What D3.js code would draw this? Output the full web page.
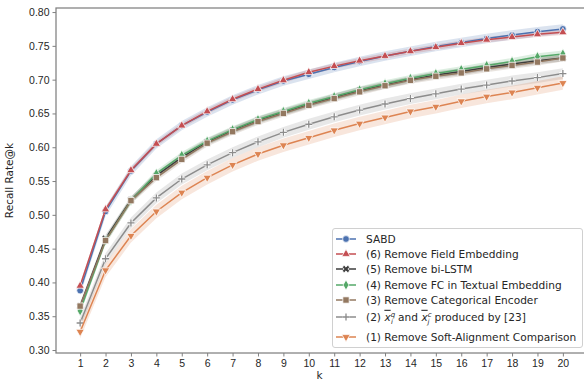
<!DOCTYPE html>
<html>
<head>
<meta charset="utf-8">
<style>
body { margin:0; background:#fff; }
svg { font-family: "DejaVu Sans", sans-serif; }
.axis text { fill:#262626; font-size:10.5px; }
.axis path, .axis line { stroke:#808080; }
</style>
</head>
<body>
<svg id="svg" width="584" height="383"></svg>
<script src="https://cdn.jsdelivr.net/npm/d3@7"></script>
<script>
// k values
var ks = [1,2,3,4,5,6,7,8,9,10,11,12,13,14,15,16,17,18,19,20]
var yTicks = [0.30,0.35,0.40,0.45,0.50,0.55,0.60,0.65,0.70,0.75,0.80]

// recall@k per model
var sabd     = [0.388,0.505,0.565,0.605,0.632,0.652,0.670,0.685,0.698,0.708,0.718,0.727,0.735,0.742,0.749,0.755,0.761,0.766,0.771,0.775]
var noField  = [0.395,0.508,0.566,0.605,0.632,0.653,0.671,0.686,0.699,0.711,0.720,0.728,0.735,0.742,0.748,0.754,0.759,0.763,0.767,0.770]
var noLSTM   = [0.365,0.465,0.522,0.558,0.585,0.608,0.625,0.640,0.652,0.663,0.674,0.684,0.692,0.700,0.707,0.712,0.718,0.723,0.728,0.732]
var noFC     = [0.358,0.462,0.521,0.561,0.588,0.609,0.626,0.641,0.653,0.665,0.675,0.685,0.694,0.702,0.709,0.715,0.721,0.727,0.734,0.738]
var noCat    = [0.365,0.462,0.521,0.555,0.582,0.606,0.623,0.638,0.650,0.662,0.672,0.682,0.691,0.699,0.705,0.710,0.716,0.721,0.726,0.732]
var ref23    = [0.340,0.435,0.488,0.525,0.553,0.574,0.592,0.608,0.622,0.634,0.645,0.655,0.664,0.672,0.679,0.686,0.692,0.698,0.703,0.709]
var noAlign  = [0.327,0.418,0.469,0.505,0.533,0.555,0.574,0.590,0.603,0.614,0.625,0.635,0.644,0.653,0.660,0.668,0.675,0.681,0.688,0.695]

// half width of the shaded band for each model
var bands = [0.007, 0.004, 0.005, 0.005, 0.005, 0.008, 0.010]

var series = [
  {name:"SABD", vals:sabd, color:"#4C72B0", mark:"circle"},
  {name:"(6) Remove Field Embedding", vals:noField, color:"#C44E52", mark:"tri"},
  {name:"(5) Remove bi-LSTM", vals:noLSTM, color:"#3d3d3d", mark:"x"},
  {name:"(4) Remove FC in Textual Embedding", vals:noFC, color:"#55A868", mark:"diamond"},
  {name:"(3) Remove Categorical Encoder", vals:noCat, color:"#937860", mark:"square"},
  {name:"(2)", vals:ref23, color:"#8C8C8C", mark:"plus"},
  {name:"(1) Remove Soft-Alignment Comparison", vals:noAlign, color:"#DD8452", mark:"tridown"}
]
series.forEach(function(s,i){ s.band = bands[i] })

var svg = d3.select("#svg")
var pLeft = 56, pRight = 587, pTop = 8, pBottom = 353

var x = d3.scaleLinear().domain([0.05, 20.95]).range([pLeft, pRight])
var y = d3.scaleLinear().domain([0.2956, 0.806]).range([pBottom, pTop])

var xAxis = svg.append("g").attr("class","axis")
  .attr("transform","translate(0,"+pBottom+")")
  .call(d3.axisBottom(x).tickValues(ks).tickSize(3.5).tickPadding(3.5).tickFormat(d3.format("d")))
xAxis.select(".domain").remove()

var yAxis = svg.append("g").attr("class","axis")
  .attr("transform","translate("+pLeft+",0)")
  .call(d3.axisLeft(y).tickValues(yTicks).tickSize(3.5).tickPadding(3).tickFormat(d3.format(".2f")))
yAxis.select(".domain").remove()

svg.append("text").attr("x",(pLeft+pRight)/2 - 2).attr("y",379).attr("text-anchor","middle")
  .attr("font-size",10.5).attr("fill","#262626").text("k")
svg.append("text").attr("transform","translate(13,"+((pTop+pBottom)/2)+") rotate(-90)")
  .attr("text-anchor","middle").attr("font-size",10.5).attr("fill","#262626").text("Recall Rate@k")

var area = d3.area().x(function(d,i){return x(ks[i])})
  .y0(function(d){return y(d[0])}).y1(function(d){return y(d[1])})
var line = d3.line().x(function(d,i){return x(ks[i])}).y(function(d){return y(d)})

function symbolPath(mark) {
  if (mark == "circle") return d3.symbol(d3.symbolCircle, 36)()
  if (mark == "tri") return d3.symbol(d3.symbolTriangle, 30)()
  if (mark == "tridown") return d3.symbol(d3.symbolTriangle, 30)()
  if (mark == "diamond") return d3.symbol(d3.symbolDiamond, 30)()
  if (mark == "square") return d3.symbol(d3.symbolSquare, 40)()
  if (mark == "x") return d3.symbol(d3.symbolCross, 34)()
  if (mark == "plus") return "M-3.5,0H3.5M0,-3.5V3.5"
}
function symbolRot(mark) {
  if (mark == "tridown") return " rotate(180)"
  if (mark == "x") return " rotate(45)"
  return ""
}
function drawMarker(g, s, cx, cy) {
  if (s.mark == "plus") {
    g.append("path").attr("d", symbolPath(s.mark)).attr("transform","translate("+cx+","+cy+")")
      .attr("stroke","#fff").attr("stroke-width",3).attr("fill","none")
    g.append("path").attr("d", symbolPath(s.mark)).attr("transform","translate("+cx+","+cy+")")
      .attr("stroke",s.color).attr("stroke-width",1.3).attr("fill","none")
  } else {
    g.append("path").attr("d", symbolPath(s.mark))
      .attr("transform","translate("+cx+","+cy+")"+symbolRot(s.mark))
      .attr("fill",s.color).attr("stroke","#fff").attr("stroke-width",0.75)
  }
}

var plot = svg.append("g")
// bands first
series.forEach(function(s){
  plot.append("path").datum(s.vals.map(function(v){return [v-s.band, v+s.band]}))
    .attr("d",area).attr("fill",s.color).attr("fill-opacity",0.2)
})
series.forEach(function(s){
  var g = plot.append("g")
  g.append("path").datum(s.vals).attr("d",line).attr("fill","none")
    .attr("stroke",s.color).attr("stroke-width",1.5)
  s.vals.forEach(function(v,i){ drawMarker(g, s, x(ks[i]), y(v)) })
})

// frame
svg.append("rect").attr("x",pLeft).attr("y",pTop).attr("width",pRight-pLeft).attr("height",pBottom-pTop)
  .attr("fill","none").attr("stroke","#808080").attr("stroke-width",1.25)

// legend
var lg = svg.append("g")
lg.append("rect").attr("x",332.5).attr("y",228.5).attr("width",250).attr("height",119).attr("rx",2.5)
  .attr("fill","#fff").attr("fill-opacity",0.8).attr("stroke","#d0d0d0")
var rowY = [239, 254, 269, 285, 300, 317, 337]
series.forEach(function(s,i){
  var yy = rowY[i]
  lg.append("line").attr("x1",336).attr("x2",356).attr("y1",yy).attr("y2",yy)
    .attr("stroke",s.color).attr("stroke-width",1.5)
  drawMarker(lg, s, 346, yy)
  var t = lg.append("text").attr("x",366).attr("y",yy+3.8).attr("font-size",10.6).attr("fill","#262626")
  if (s.mark == "plus") {
    t.append("tspan").text("(2) ")
    t.append("tspan").attr("font-style","italic").attr("text-decoration","overline").text("x")
    t.append("tspan").attr("font-size",7).attr("font-style","italic").attr("dy",-4).text("q")
    t.append("tspan").attr("font-size",7).attr("font-style","italic").attr("dx",-4).attr("dy",7).text("i")
    t.append("tspan").attr("dx",5).attr("dy",-3).text("and ")
    t.append("tspan").attr("font-style","italic").attr("text-decoration","overline").text("x")
    t.append("tspan").attr("font-size",7).attr("font-style","italic").attr("dy",-4).text("c")
    t.append("tspan").attr("font-size",7).attr("font-style","italic").attr("dx",-4).attr("dy",7).text("j")
    t.append("tspan").attr("dx",5).attr("dy",-3).text("produced by [23]")
  } else {
    t.text(s.name)
  }
})
</script>
</body>
</html>
